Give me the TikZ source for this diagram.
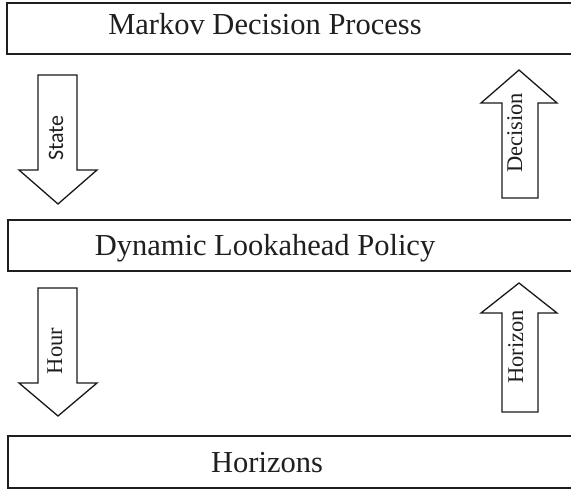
\documentclass[tikz,border=0pt]{standalone}
\usepackage{fontspec}
\setmainfont{Liberation Serif}
\newfontfamily\labsans{Carlito}
\begin{document}
\begin{tikzpicture}[x=1pt,y=1pt,
  boxline/.style={draw=black!88,line width=2pt},
  arrowline/.style={draw=black!90,line width=1.3pt,line join=miter,fill=white},
  boxtext/.style={anchor=base,inner sep=0pt,font=\fontsize{30.5}{30.5}\selectfont,text=black!88},
  arrtext/.style={anchor=base,inner sep=0pt,rotate=90,font=\fontsize{22.5}{22.5}\selectfont,text=black!88}]
\useasboundingbox (0,0) rectangle (571,491);
\begin{scope}
\clip (0,0) rectangle (571,491);
% boxes
\draw[boxline] (6.5,488) rectangle (585,437);
\draw[boxline] (8,271) rectangle (585,220);
\draw[boxline] (8,55) rectangle (585,3);
\end{scope}
\coordinate (mdpc) at (265,456);
\coordinate (dlpc) at (265,236);
\coordinate (horc) at (267,19);
\node[boxtext] (mdp) at (mdpc) {Markov Decision Process};
\node[boxtext] (dlp) at (dlpc) {Dynamic Lookahead Policy};
\node[boxtext] (hor) at (horc) {Horizons};
% State arrow (down)
\draw[arrowline] (38,416) -- (77,416) -- (77,321) -- (97,321) -- (58,287) -- (19,321) -- (38,321) -- cycle;
% Decision arrow (up)
\draw[arrowline] (502,293) -- (538,293) -- (538,388) -- (557,388) -- (519,421) -- (481,388) -- (502,388) -- cycle;
% Hour arrow (down)
\draw[arrowline] (38,203) -- (77,203) -- (77,108) -- (97,108) -- (58,75) -- (19,108) -- (38,108) -- cycle;
% Horizon arrow (up)
\draw[arrowline] (502,79) -- (538,79) -- (538,178) -- (557,178) -- (519,208) -- (481,178) -- (502,178) -- cycle;
% labels
\node[arrtext,font=\labsans\fontsize{22}{22}\selectfont] (state) at (63,353) {State};
\node[arrtext] (decision) at (522,358) {Decision};
\node[arrtext] (hour) at (62,140) {Hour};
\node[arrtext] (horizon) at (523,144) {Horizon};
\end{tikzpicture}
\end{document}
